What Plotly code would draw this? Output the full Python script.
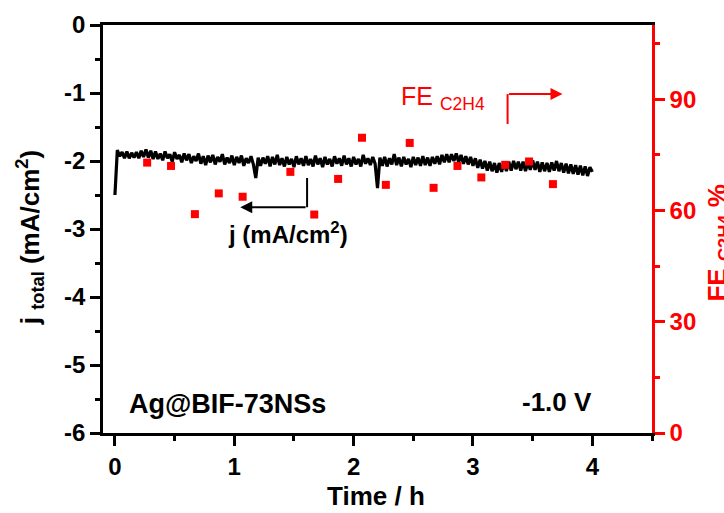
import plotly.graph_objects as go

# ---- data ----
time_step_h = 0.02
current_density = [
    -2.50, -1.84, -1.93, -1.87, -1.96, -1.86, -1.96, -1.88, -1.95, -1.87,
    -1.96, -1.85, -1.94, -1.83, -1.95, -1.85, -1.97, -1.86, -1.97, -1.89,
    -1.99, -1.86, -1.96, -1.90, -2.01, -1.87, -1.97, -1.91, -2.02, -1.89,
    -1.99, -1.90, -2.03, -1.93, -2.00, -1.89, -2.04, -1.93, -2.06, -1.92,
    -2.02, -1.91, -2.05, -1.94, -2.01, -1.90, -2.05, -1.95, -2.03, -1.92,
    -2.06, -1.94, -2.03, -1.92, -2.07, -1.96, -2.03, -1.93, -2.05, -2.25,
    -1.95, -2.07, -1.95, -2.04, -1.93, -2.08, -1.94, -2.05, -1.91, -2.06,
    -1.96, -2.08, -1.94, -2.05, -1.97, -2.09, -1.93, -2.05, -1.96, -2.07,
    -1.93, -2.06, -1.97, -2.08, -1.92, -2.05, -1.96, -2.09, -1.94, -2.05,
    -1.97, -2.08, -1.93, -2.04, -1.96, -2.07, -1.92, -2.05, -1.96, -2.08,
    -1.94, -2.05, -1.97, -2.08, -1.91, -2.04, -1.96, -2.06, -1.94, -2.04,
    -2.40, -1.95, -2.07, -1.94, -2.08, -1.96, -2.05, -1.90, -2.06, -1.95,
    -2.08, -1.94, -2.05, -1.97, -2.09, -1.94, -2.06, -1.95, -2.07, -1.93,
    -2.06, -1.95, -2.07, -1.94, -2.04, -1.93, -2.05, -1.91, -2.02, -1.90,
    -2.02, -1.90, -2.00, -1.89, -2.02, -1.91, -2.04, -1.93, -2.05, -1.94,
    -2.07, -1.96, -2.10, -1.98, -2.11, -2.00, -2.14, -2.01, -2.15, -2.03,
    -2.17, -2.03, -2.16, -2.01, -2.15, -2.01, -2.14, -2.00, -2.12, -2.01,
    -2.14, -2.01, -2.15, -2.02, -2.13, -1.99, -2.13, -2.01, -2.16, -2.02,
    -2.15, -2.03, -2.16, -2.02, -2.14, -2.00, -2.15, -2.03, -2.17, -2.04,
    -2.18, -2.05, -2.19, -2.06, -2.20, -2.07, -2.21, -2.08, -2.22, -2.09,
    -2.16,
]
time_h = [round(i * time_step_h, 2) for i in range(len(current_density))]

fe_time_h = [0.27, 0.47, 0.67, 0.87, 1.07, 1.47, 1.67, 1.87, 2.07,
             2.27, 2.47, 2.67, 2.87, 3.07, 3.27, 3.47, 3.67]
fe_c2h4 = [72.9, 72.0, 59.0, 64.6, 63.7, 70.4, 58.9, 68.5, 79.6,
           66.9, 78.2, 66.1, 72.0, 68.9, 72.3, 73.2, 67.1]

x_ticks = [0, 1, 2, 3, 4]
y_ticks = [0, -1, -2, -3, -4, -5, -6]
y2_ticks = [0, 30, 60, 90]

FONT = "Liberation Sans"
RED = "#ff0000"
BLACK = "#000000"

fig = go.Figure()
fig.add_trace(go.Scatter(
    x=time_h, y=current_density, mode="lines",
    line=dict(color=BLACK, width=3.2), yaxis="y", showlegend=False,
))
fig.add_trace(go.Scatter(
    x=fe_time_h, y=fe_c2h4, mode="markers",
    marker=dict(symbol="square", size=8, color=RED, line=dict(width=0)),
    yaxis="y2", showlegend=False,
))

# arrows
fig.add_shape(type="line", x0=1.61, x1=1.61, y0=-2.25, y1=-2.68,
              xref="x", yref="y", line=dict(color=BLACK, width=2))
fig.add_annotation(x=1.05, y=-2.68, ax=1.61, ay=-2.68, axref="x", ayref="y",
                   xref="x", yref="y", text="", showarrow=True,
                   arrowhead=2, arrowsize=1.2, arrowwidth=2, arrowcolor=BLACK)
fig.add_shape(type="line", x0=3.29, x1=3.29, y0=83.3, y1=91.4,
              xref="x", yref="y2", line=dict(color=RED, width=2))
fig.add_annotation(x=3.75, y=91.4, ax=3.29, ay=91.4, axref="x", ayref="y2",
                   xref="x", yref="y2", text="", showarrow=True,
                   arrowhead=2, arrowsize=1.2, arrowwidth=2, arrowcolor=RED)

# text labels
fig.add_annotation(x=2.75, y=90.3, xref="x", yref="y2", showarrow=False,
                   text="FE <sub>C2H4</sub>", xanchor="center", yanchor="middle",
                   font=dict(family=FONT, size=25, color=RED))
fig.add_annotation(x=1.45, y=-3.06, xref="x", yref="y", showarrow=False,
                   text="<b>j (mA/cm<sup>2</sup>)</b>", xanchor="center", yanchor="middle",
                   font=dict(family=FONT, size=24, color=BLACK))
fig.add_annotation(x=0.94, y=-5.57, xref="x", yref="y", showarrow=False,
                   text="<b>Ag@BIF-73NSs</b>", xanchor="center", yanchor="middle",
                   font=dict(family=FONT, size=27, color=BLACK))
fig.add_annotation(x=3.70, y=-5.54, xref="x", yref="y", showarrow=False,
                   text="<b>-1.0 V</b>", xanchor="center", yanchor="middle",
                   font=dict(family=FONT, size=26, color=BLACK))

# axis titles as annotations for exact placement
fig.add_annotation(x=0.497, y=-0.154, xref="paper", yref="paper", showarrow=False,
                   text="<b>Time / h</b>", xanchor="center", yanchor="middle",
                   font=dict(family=FONT, size=26, color=BLACK))
fig.add_annotation(x=-0.133, y=0.48, xref="paper", yref="paper", showarrow=False,
                   text="<b>j <sub>total</sub> (mA/cm<sup>2</sup>)</b>", textangle=-90,
                   xanchor="center", yanchor="middle",
                   font=dict(family=FONT, size=26, color=BLACK))
fig.add_annotation(x=1.087, y=0.465, xref="paper", yref="paper", showarrow=False,
                   text="<b>FE <sub>C2H4</sub> %</b>", textangle=-90,
                   xanchor="left", yanchor="middle",
                   font=dict(family=FONT, size=26, color=RED))

fig.update_layout(
    width=724, height=513,
    margin=dict(l=103, r=72, t=25, b=80, autoexpand=False),
    paper_bgcolor="white", plot_bgcolor="white",
    font=dict(family=FONT, color=BLACK),
    xaxis=dict(
        range=[-0.1, 4.5], tickvals=x_ticks, ticktext=[str(v) for v in x_ticks],
        automargin=False,
        showgrid=False, zeroline=False, showline=True, linecolor=BLACK, linewidth=2.5,
        mirror=True, ticks="outside", ticklen=10, tickwidth=2.5, tickcolor=BLACK,
        tickfont=dict(family=FONT, size=24, color=BLACK, weight="bold"),
        minor=dict(dtick=0.5, tick0=0, ticks="outside", ticklen=5, tickwidth=2.5, tickcolor=BLACK),
    ),
    yaxis=dict(
        range=[-6, 0], tickvals=y_ticks, ticktext=[str(v) for v in y_ticks],
        automargin=False,
        showgrid=False, zeroline=False, showline=True, linecolor=BLACK, linewidth=2.5,
        ticks="outside", ticklen=10, tickwidth=2.5, tickcolor=BLACK,
        tickfont=dict(family=FONT, size=24, color=BLACK, weight="bold"),
        minor=dict(dtick=0.5, tick0=0, ticks="outside", ticklen=5, tickwidth=2.5, tickcolor=BLACK),
    ),
    yaxis2=dict(
        range=[0, 110], overlaying="y", side="right", tickvals=y2_ticks,
        ticktext=[str(v) for v in y2_ticks], automargin=False,
        showgrid=False, zeroline=False, showline=True, linecolor=RED, linewidth=2.5,
        ticks="outside", ticklen=10, tickwidth=2.5, tickcolor=RED,
        tickfont=dict(family=FONT, size=24, color=RED, weight="bold"),
        minor=dict(dtick=15, tick0=0, ticks="outside", ticklen=5, tickwidth=2.5, tickcolor=RED),
    ),
)

fig.write_html("out.html")
